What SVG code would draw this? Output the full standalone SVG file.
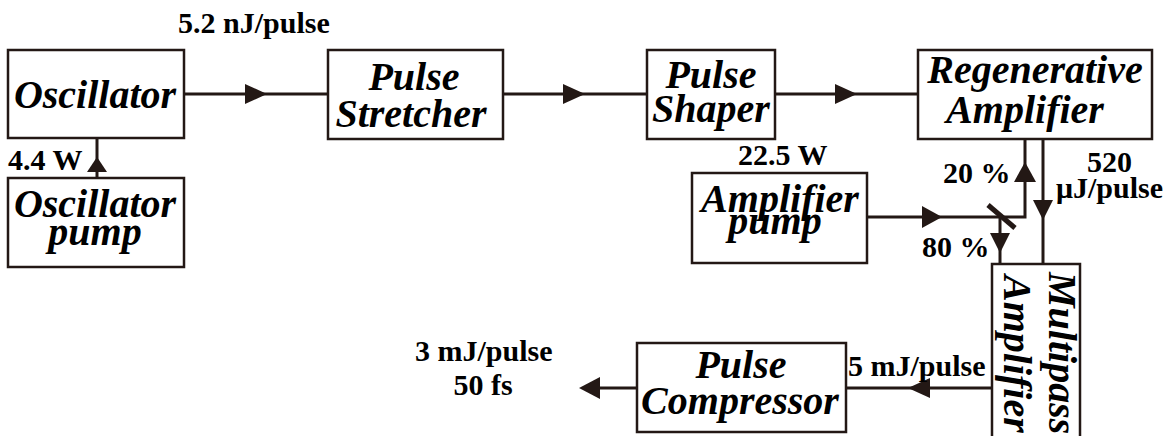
<svg xmlns="http://www.w3.org/2000/svg" width="1174" height="436" viewBox="0 0 1174 436">
<style>
.box{fill:#fff;stroke:#231815;stroke-width:2.5}
.ln{fill:none;stroke:#231815;stroke-width:3}
.ah{fill:#231815;stroke:none}
</style>
<rect width="1174" height="436" fill="#fff"/>
<g id="connectors">
<line class="ln" x1="184" y1="94" x2="328" y2="94"/>
<polygon class="ah" points="245,84 267,94 245,104"/>
<line class="ln" x1="503" y1="94" x2="647" y2="94"/>
<polygon class="ah" points="563,84 585,94 563,104"/>
<line class="ln" x1="775" y1="94" x2="918" y2="94"/>
<polygon class="ah" points="835,84 857,94 835,104"/>
<line class="ln" x1="97" y1="178" x2="97" y2="138"/>
<polygon class="ah" points="87,172 97,157 107,172"/>
<path class="ln" d="M867 217 H1025 V139"/>
<polygon class="ah" points="922,206 942,217 922,228"/>
<polygon class="ah" points="1014,182 1025,162 1036,182"/>
<line x1="988" y1="205" x2="1015" y2="228" stroke="#231815" stroke-width="5"/>
<line class="ln" x1="1000" y1="217" x2="1000" y2="264"/>
<polygon class="ah" points="990,233 1000,253 1010,233"/>
<line class="ln" x1="1043" y1="139" x2="1043" y2="264"/>
<polygon class="ah" points="1033,200 1043,220 1053,200"/>
<line class="ln" x1="992" y1="388" x2="846" y2="388"/>
<polygon class="ah" points="930,378 908,388 930,398"/>
<line class="ln" x1="637" y1="388" x2="592" y2="388"/>
<polygon class="ah" points="600,377 579,388 600,399"/>
</g>
<g id="osc">
<rect class="box" x="8" y="50" width="176" height="88"/>
<text x="95" y="108" font-family="Liberation Serif" font-size="40" font-weight="bold" font-style="italic" text-anchor="middle">Oscillator</text>
</g>
<g id="oscpump">
<rect class="box" x="8" y="178" width="176" height="89"/>
<text x="95" y="217" font-family="Liberation Serif" font-size="40" font-weight="bold" font-style="italic" text-anchor="middle">Oscillator</text>
<text x="95" y="245" font-family="Liberation Serif" font-size="40" font-weight="bold" font-style="italic" text-anchor="middle">pump</text>
</g>
<g id="stretcher">
<rect class="box" x="328" y="50" width="175" height="89"/>
<text x="414" y="90" font-family="Liberation Serif" font-size="40" font-weight="bold" font-style="italic" text-anchor="middle">Pulse</text>
<text x="411" y="127" font-family="Liberation Serif" font-size="40" font-weight="bold" font-style="italic" text-anchor="middle">Stretcher</text>
</g>
<g id="shaper">
<rect class="box" x="647" y="50" width="128" height="89"/>
<text x="711" y="88" font-family="Liberation Serif" font-size="40" font-weight="bold" font-style="italic" text-anchor="middle">Pulse</text>
<text x="711" y="122" font-family="Liberation Serif" font-size="40" font-weight="bold" font-style="italic" text-anchor="middle">Shaper</text>
</g>
<g id="regen">
<rect class="box" x="918" y="50" width="234" height="89"/>
<text x="1035" y="83" font-family="Liberation Serif" font-size="40" font-weight="bold" font-style="italic" text-anchor="middle">Regenerative</text>
<text x="1025" y="123" font-family="Liberation Serif" font-size="40" font-weight="bold" font-style="italic" text-anchor="middle">Amplifier</text>
</g>
<g id="amppump">
<rect class="box" x="692" y="173" width="175" height="90"/>
<text x="780" y="212" font-family="Liberation Serif" font-size="40" font-weight="bold" font-style="italic" text-anchor="middle">Amplifier</text>
<text x="775" y="234" font-family="Liberation Serif" font-size="40" font-weight="bold" font-style="italic" text-anchor="middle">pump</text>
</g>
<g id="multipass">
<rect class="box" x="992" y="264" width="88" height="190"/>
<text transform="translate(1049,272) rotate(90)" font-family="Liberation Serif" font-size="40" font-weight="bold" font-style="italic">Multipass</text>
<text transform="translate(1004,275) rotate(90)" font-family="Liberation Serif" font-size="40" font-weight="bold" font-style="italic">Amplifier</text>
</g>
<g id="compressor">
<rect class="box" x="637" y="343" width="209" height="89"/>
<text x="741" y="378" font-family="Liberation Serif" font-size="40" font-weight="bold" font-style="italic" text-anchor="middle">Pulse</text>
<text x="740" y="414" font-family="Liberation Serif" font-size="40" font-weight="bold" font-style="italic" text-anchor="middle">Compressor</text>
</g>
<g id="labels" font-family="Liberation Serif" font-size="30" font-weight="bold">
<text x="178" y="33" font-family="Liberation Serif">5.2 nJ/pulse</text>
<text x="8" y="170" font-family="Liberation Serif">4.4 W</text>
<text x="738" y="165" font-family="Liberation Serif">22.5 W</text>
<text x="943" y="183" font-family="Liberation Serif">20 %</text>
<text x="922" y="257" font-family="Liberation Serif">80 %</text>
<text x="1087" y="172" font-family="Liberation Serif">520</text>
<text x="1056" y="198" font-family="Liberation Serif">μJ/pulse</text>
<text x="415" y="361" font-family="Liberation Serif">3 mJ/pulse</text>
<text x="483" y="395" font-family="Liberation Serif" text-anchor="middle">50 fs</text>
<text x="848" y="376" font-family="Liberation Serif">5 mJ/pulse</text>
</g>
</svg>
